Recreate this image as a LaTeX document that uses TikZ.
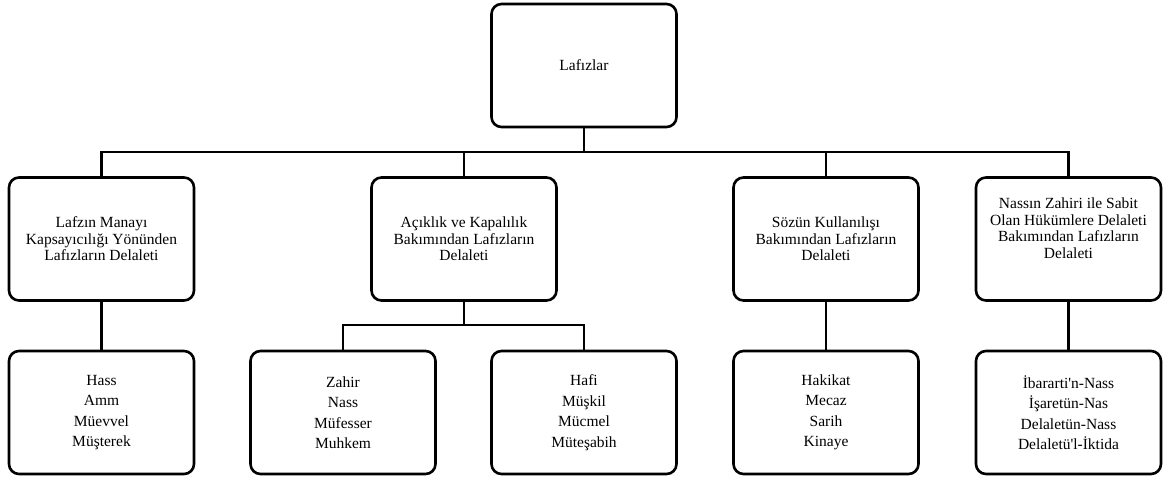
\documentclass[tikz,border=0pt]{standalone}
\usepackage{fontspec}
\setmainfont{Liberation Serif}
\usetikzlibrary{calc}

\tikzset{
	box/.style={draw=black, line width=2.6pt, rounded corners=10pt, minimum width=185pt, minimum height=123pt, align=center, inner sep=2pt, font=\fontsize{15.5}{16.5}\selectfont},
	leafbox/.style={box, font=\fontsize{15.5}{20.5}\selectfont},
	conn/.style={line width=2.6pt, black}
}

\begin{document}
\begin{tikzpicture}[x=1pt, y=-1pt]
			%%%%% START %%%%%
			\useasboundingbox (0, 0) rectangle (1171, 477);
			
			\node[box] (lafiz) at (584, 65.5) {Lafızlar};
			
			\node[box] (kapsam) at (101.5, 239) {Lafzın Manayı\\Kapsayıcılığı Yönünden\\Lafızların Delaleti};
			\node[box] (acik) at (464, 239) {Açıklık ve Kapalılık\\Bakımından Lafızların\\Delaleti};
			\node[box] (kullan) at (826, 239) {Sözün Kullanılışı\\Bakımından Lafızların\\Delaleti};
			\node[box] (nass) at (1068.5, 239) {Nassın Zahiri ile Sabit\\Olan Hükümlere Delaleti\\Bakımından Lafızların\\Delaleti\\[5pt]};
			
			\node[leafbox] (hass) at (101.5, 412.5) {Hass\\Amm\\Müevvel\\Müşterek};
			\node[leafbox] (zahir) at (343, 412.5) {Zahir\\Nass\\Müfesser\\Muhkem};
			\node[leafbox] (hafi) at (584, 412.5) {Hafi\\Müşkil\\Mücmel\\Müteşabih};
			\node[leafbox] (hakikat) at (826, 412.5) {Hakikat\\Mecaz\\Sarih\\Kinaye};
			\node[leafbox] (ibare) at (1068.5, 412.5) {İbararti\textquotesingle n-Nass\\İşaretün-Nas\\Delaletün-Nass\\Delaletü\textquotesingle l-İktida};
			
			\coordinate (bus) at (0, 152);
			\coordinate (subbus) at (0, 325);
			
			% top level
			\draw[conn] (lafiz.south) -- (lafiz.south |- bus);
			\draw[conn] (kapsam.north) |- (nass.north |- bus) -- (nass.north);
			\draw[conn] (acik.north) -- (acik.north |- bus);
			\draw[conn] (kullan.north) -- (kullan.north |- bus);
			
			% second level
			\draw[conn] (kapsam.south) -- (hass.north);
			\draw[conn] (acik.south) -- (acik.south |- subbus);
			\draw[conn] (zahir.north) |- (hafi.north |- subbus) -- (hafi.north);
			\draw[conn] (kullan.south) -- (hakikat.north);
			\draw[conn] (nass.south) -- (ibare.north);
			
			%%%%% END %%%%%
\end{tikzpicture}
\end{document}
